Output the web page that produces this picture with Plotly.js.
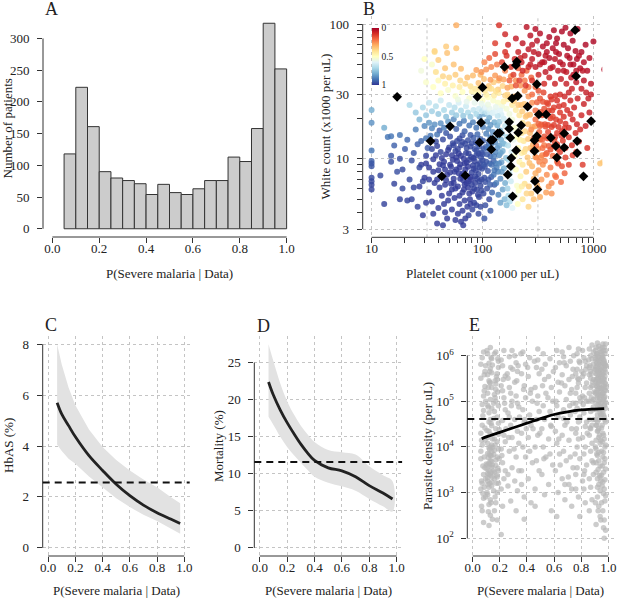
<!DOCTYPE html>
<html><head><meta charset="utf-8">
<script src="https://cdn.plot.ly/plotly-3.0.1.min.js"></script>
<style>html,body{margin:0;padding:0;background:#fff}#chart{width:617px;height:598px}</style>
</head><body><div id="chart"></div>
<script>
// ---------- Panel A: histogram ----------
const binLeft = [0.05,0.10,0.15,0.20,0.25,0.30,0.35,0.40,0.45,0.50,0.55,0.60,0.65,0.70,0.75,0.80,0.85,0.90,0.95];
const binCount = [118,223,161,90,80,76,71,54,70,57,54,63,76,76,113,106,158,324,252];

// ---------- Panel B: [platelets, white count, P(severe)] ----------
const bloodCounts = [
[45,9.5,.99],[52,8.7,.99],[58,10.2,.99],[63,9.1,.99],[70,8.3,.99],[76,9.8,.98],[82,8.9,.98],[88,10.6,.97],[95,9.3,.97],[48,7.6,.99],
[55,7.1,.99],[61,7.8,.99],[67,6.9,.99],[73,7.4,.99],[80,7.9,.98],[86,6.6,.98],[92,7.7,.97],[99,8.4,.96],[42,11.2,.98],[50,12.1,.98],
[57,11.4,.98],[64,12.6,.97],[71,11.0,.98],[78,12.3,.97],[85,11.8,.96],[91,12.9,.95],[98,11.1,.95],[40,8.2,.99],[46,6.4,.99],[53,5.9,.99],
[60,6.2,.99],[66,5.6,.99],[74,6.1,.99],[81,5.7,.99],[89,5.9,.98],[96,6.3,.97],[104,7.2,.96],[108,9.5,.95],[112,8.1,.95],[118,10.4,.93],
[36,9.9,.99],[39,7.0,.99],[43,5.3,.99],[49,4.9,.99],[56,5.1,.99],[62,4.6,.99],[69,4.9,.99],[77,5.0,.99],[84,4.7,.98],[93,5.2,.98],
[33,8.6,.99],[35,11.8,.98],[38,13.4,.97],[44,13.9,.97],[51,14.6,.96],[59,13.5,.97],[66,14.9,.96],[74,13.7,.96],[83,14.3,.94],[90,15.2,.92],
[101,13.6,.93],[107,12.2,.93],[114,13.0,.92],[122,11.7,.92],[126,9.6,.93],[120,7.3,.94],[110,6.0,.96],[102,5.5,.97],[115,5.0,.97],[128,6.4,.94],
[47,10.8,.99],[54,9.8,.99],[61,10.9,.99],[68,10.0,.99],[75,10.9,.98],[83,10.1,.98],[90,9.0,.97],[97,10.2,.96],[44,8.9,.99],[51,7.9,.99],
[58,8.3,.99],[65,7.5,.99],[72,9.4,.99],[79,7.0,.99],[87,8.2,.98],[94,6.8,.97],[100,10.8,.96],[105,8.7,.96],[38,10.6,.99],[41,6.1,.99],
[30,7.2,.99],[31,10.5,.98],[28,9.0,.99],[27,6.2,.99],[33,5.6,.99],[35,4.8,.99],[40,4.3,.99],[46,4.0,.99],[53,4.2,.99],[60,3.9,.99],
[66,4.1,.99],[73,4.4,.99],[81,4.2,.98],[88,4.5,.98],[57,3.5,.99],[64,3.4,.99],[70,3.6,.99],[48,3.6,.99],[96,4.4,.97],[106,4.5,.96],
[55,6.6,.99],[62,5.3,.99],[69,6.4,.99],[76,5.5,.99],[84,6.0,.98],[91,5.4,.98],[98,7.0,.97],[50,5.5,.99],[43,7.3,.99],[37,6.6,.99],
[54,13.0,.97],[62,14.1,.97],[70,12.9,.97],[78,15.0,.95],[87,13.2,.95],[95,14.0,.93],[47,15.5,.95],[41,16.2,.94],[58,16.6,.93],[69,16.0,.93],
[43,10.1,.99],[49,11.6,.99],[53,10.6,.99],[59,9.6,.99],[64,10.5,.99],[69,9.2,.99],[74,8.7,.99],[79,10.3,.98],[85,9.6,.98],[92,10.9,.97],
[46,8.3,.99],[51,9.0,.99],[56,8.0,.99],[62,8.6,.99],[67,7.8,.99],[72,6.6,.99],[78,7.3,.99],[83,8.4,.98],[89,7.1,.98],[94,8.6,.97],
[41,9.1,.99],[47,6.9,.99],[52,6.5,.99],[57,6.0,.99],[63,7.1,.99],[68,5.9,.99],[75,6.8,.99],[80,6.4,.98],[86,7.4,.98],[100,9.7,.96],
[55,12.6,.98],[60,11.8,.98],[66,13.3,.97],[72,12.0,.97],[80,13.0,.96],[88,11.5,.96],[94,12.3,.95],[103,11.8,.94],[110,10.8,.94],[116,9.2,.94],
[106,6.7,.96],[113,7.0,.95],[98,5.8,.97],[103,9.0,.95],[39,12.4,.98],[36,8.0,.99],[33,7.0,.99],[31,9.2,.99],[45,4.6,.99],[78,4.6,.99],
[10,23,.8],[10,18.5,.85],[10,11.5,.9],[10,9.6,.93],[10,8.8,.95],[10,7.2,.97],[10,6.4,.98],[10,5.9,.98],[10,6.8,.97],[10,9.2,.95],
[13,17,.8],[12,7.5,.97],[14,14.5,.9],[15,14.7,.9],[13,4.6,.98],[15,9.5,.96],[15,10.5,.95],[16,6.5,.98],[18,10,.96],[19,8.3,.97],
[16,12.5,.93],[18,15.0,.9],[17,8.0,.96],[19,6.0,.97],[20,11.8,.94],[21,13.8,.92],[22,7.0,.97],[23,9.7,.96],[24,11.0,.95],[25,16.5,.88],
[26,12.8,.93],[27,8.6,.97],[28,13.5,.92],[29,6.8,.98],[30,17.5,.86],[31,14.2,.9],[32,12.0,.94],[33,18.5,.84],[34,14.8,.9],[35,16.8,.87],
[37,17.9,.85],[39,15.1,.9],[42,18.3,.85],[45,17.0,.88],[49,18.9,.83],[23,5.0,.98],[26,4.4,.98],[29,3.8,.99],[31,4.7,.99],[36,3.9,.99],
[39,3.3,.99],[44,3.2,.99],[67,3.2,.99],[75,3.8,.98],[92,3.9,.97],[104,3.6,.95],[118,4.1,.94],[21,4.9,.98],[24,6.1,.98],[18,5.0,.98],
[108,15.3,.88],[113,16.6,.86],[118,14.4,.87],[124,15.8,.85],[130,13.2,.86],[136,12.0,.85],[141,10.6,.86],[132,9.2,.88],[138,8.0,.87],[145,7.1,.86],
[126,7.6,.9],[133,6.6,.89],[122,5.6,.92],[139,5.4,.88],[148,9.4,.83],[152,11.4,.8],[147,13.8,.8],[144,16.2,.78],[136,17.7,.8],[128,18.6,.8],
[118,17.8,.84],[110,18.9,.84],[101,17.2,.88],[95,18.4,.86],[88,17.0,.9],[82,18.6,.88],[76,17.6,.9],[68,19.1,.88],[62,18.2,.9],[55,19.6,.86],
[156,8.5,.8],[160,6.6,.8],[152,5.9,.82],[163,10.1,.75],[158,12.8,.73],[150,15.4,.74],[142,18.8,.75],[115,20.2,.8],[104,21.5,.8],[94,20.5,.82],
[112,12.0,.9],[119,12.8,.88],[125,13.8,.86],[131,11.2,.87],[137,14.6,.84],[142,12.5,.83],[127,10.4,.89],[134,8.6,.88],[141,9.2,.86],[149,8.0,.84],
[121,9.0,.91],[128,8.2,.9],[117,6.4,.93],[146,11.0,.82],[153,13.0,.78],
[22,25,.7],[25,22,.74],[27,19.5,.78],[29,24,.7],[31,21,.74],[33,26,.66],[35,22.5,.72],[38,24.5,.68],[40,21.5,.74],[42,27,.64],
[45,23,.7],[47,20.5,.76],[50,25,.66],[53,22,.72],[56,24,.68],[58,21,.74],[61,26,.62],[64,22.8,.7],[67,20.8,.74],[71,24.5,.64],
[74,22,.7],[78,20.5,.74],[83,23,.66],[88,21.5,.7],[93,23.5,.64],[99,22.5,.66],[105,24,.6],[110,22,.64],[116,23.5,.58],[123,21.8,.62],
[166,14.5,.7],[170,12.5,.68],[172,9.8,.7],[175,7.7,.68],[168,6.0,.72],[178,16.5,.62],[182,11.2,.62],[185,8.5,.6],[180,6.8,.64],[171,5.3,.7],
[160,17.5,.66],[155,19.8,.64],[148,21.2,.62],[137,20.8,.66],[130,22.5,.6],[190,13.8,.58],[176,4.8,.7],[165,4.5,.76],[158,5.0,.78],[145,4.7,.82],
[195,10.5,.52],[200,8.3,.5],[205,6.3,.52],[198,5.3,.55],[210,12.0,.48],[215,9.5,.47],[220,7.4,.47],[212,5.8,.5],[225,11.0,.45],[205,14.5,.5],
[195,17.0,.52],[185,19.5,.54],[175,21.5,.55],[165,23.5,.54],[150,24.5,.55],[138,26,.52],[125,27,.52],[112,28.6,.5],[100,27.2,.5],[88,30.4,.5],
[76,28.1,.52],[66,31.3,.5],[57,29.2,.52],[49,32.4,.52],[42,30.6,.5],[36,34,.5],[31,37,.52],[28,45,.55],[35,50,.52],[30,55,.5],
[40,38,.48],[46,36,.45],[54,35,.45],[62,34,.44],[186,4.3,.6],[230,5.0,.42],[240,6.5,.4],[208,4.6,.5],[235,13.5,.42],[225,15.5,.42],
[60,27.5,.56],[72,26.5,.58],[85,26,.58],[98,25.6,.58],[112,25.2,.56],[132,24.2,.58],[145,22.8,.6],[80,31.5,.46],[92,30.5,.46],[108,29.8,.46],
[38,44,.4],[44,41,.38],[50,40,.38],[57,42,.36],[63,38,.38],[70,36,.38],[78,34.5,.4],[86,33,.42],[95,33.5,.4],[105,32,.42],
[115,33.2,.42],[127,29.4,.44],[140,30.8,.44],[155,26.6,.45],[170,27.6,.44],[46,47,.35],[55,50,.34],[40,54,.36],[48,61,.34],[37,62,.4],
[64,46.5,.33],[73,40,.33],[82,41.5,.33],[92,36.5,.34],[103,39,.34],[114,34.6,.35],[126,37,.36],[138,32.6,.36],[152,34.6,.38],[168,30,.38],
[248,8.0,.36],[255,10.2,.35],[262,6.2,.36],[270,12.0,.33],[280,8.8,.32],[290,7.1,.32],[275,5.5,.35],[300,10.3,.3],[310,6.4,.3],[320,8.2,.28],
[245,11.8,.38],[258,14.0,.35],[242,16.0,.38],[230,18.5,.42],[215,21,.42],[200,23,.44],[185,25,.44],[96,42,.32],[140,38,.32],[58,66,.35],
[330,5.2,.3],[340,7.0,.27],[290,5.0,.33],[260,4.4,.38],[350,9.0,.25],[318,11.8,.27],[1150,9.2,.35],[1220,9.4,.35],[37,63,.38],[47,68,.36],
[120,33,.4],[132,31.8,.4],[160,29.5,.38],[178,28.5,.36],[192,26.8,.36],[210,25,.35],[228,22.5,.36],[245,20.5,.35],[258,18,.34],[268,15.5,.32],
[230,9.0,.42],[238,11.2,.4],[226,6.2,.44],[218,13.8,.45],[250,5.5,.38],[265,9.3,.34],[285,12.7,.3],[300,7.8,.3],[320,6.0,.3],[335,10.2,.25],
[88,45.5,.28],[98,44,.26],[108,46,.26],[118,38.5,.27],[130,41.5,.27],[142,39.5,.25],[155,38.8,.28],[168,33.6,.28],[182,34.4,.3],[196,29,.3],
[210,29.5,.32],[224,25,.34],[238,25.5,.35],[252,21,.34],[268,21.2,.32],[282,17.2,.3],[298,17.4,.28],[312,13.9,.27],[330,13.8,.25],[345,10.6,.24],
[365,9.6,.23],[380,7.6,.25],[395,6.2,.26],[410,8.6,.22],[430,10.5,.2],[360,12.6,.22],[375,5.6,.28],[420,6.6,.24],[450,7.5,.22],[470,9.5,.2],
[120,48,.24],[135,50,.22],[104,52,.24],[160,45,.23],[180,41,.24],[200,38,.25],[220,35,.26],[240,32,.27],[260,29,.26],[280,26,.25],
[300,22.8,.2],[320,18.2,.18],[340,17.9,.17],[360,14.6,.16],[385,14.2,.15],[410,11.7,.15],[440,12.4,.14],[470,12.8,.13],[500,11.2,.12],[530,13.6,.12],
[560,12.0,.11],[600,14.4,.1],[640,12.6,.1],[690,15.5,.09],[740,13.4,.09],[310,26.2,.18],[335,22.2,.16],[360,21.4,.15],[390,17.8,.14],[420,17.2,.13],
[450,14.4,.12],[485,17.2,.11],[520,16.0,.1],[560,18.2,.1],[600,17.0,.09],[650,19.5,.08],[710,18.0,.08],[780,21,.08],[850,17.5,.07],[920,22,.06],
[280,30,.2],[300,34,.18],[330,28,.16],[355,31,.14],[380,26,.14],[410,29,.12],[440,24,.12],[470,27,.1],[500,22,.11],[540,25,.1],
[580,23,.09],[620,27,.08],[670,24,.08],[720,28,.07],[260,34,.22],[240,38,.22],[225,42,.2],[250,45,.18],[275,40,.18],[210,47,.18],
[380,11.0,.17],[420,14.2,.14],[460,19.5,.12],[395,22.8,.13],[350,26.5,.15],[320,32,.16],[500,30,.09],[550,29,.08],[600,31,.07],[640,33,.07],
[480,9.2,.16],[520,8.8,.15],[560,10.2,.13],[600,9.0,.13],[650,10.6,.12],[460,7.3,.2],[510,6.7,.2],[550,7.8,.18],[420,5.5,.26],[700,11.2,.12],
[800,9.0,.12],[880,12.0,.1],[540,20.5,.1],[620,21.5,.09],[760,16.5,.09],[820,25.5,.07],[900,28,.06],[430,20.5,.13],[370,17.3,.15],[345,21,.16],
[290,14.2,.2],[305,12.5,.2],[325,15.8,.18],[345,13.8,.17],[365,18.0,.15],[390,15.8,.14],[410,20.0,.13],[440,17.8,.12],[470,15.5,.12],[500,19.0,.11],
[285,11.5,.24],[305,10.2,.24],[325,9.5,.24],[348,12.0,.2],[372,10.8,.19],[395,12.4,.17],[445,13.5,.15],[480,11.8,.14],[515,14.8,.12],[550,16.8,.11],
[275,16.5,.25],[300,19.5,.2],[330,21.5,.17],[360,23.5,.15],[390,25.5,.13],[420,27.5,.11],[455,29.5,.1],[490,24.5,.1],[425,22.8,.12],[330,17.5,.18],
[150,52,.12],[165,58,.1],[180,48,.1],[195,55,.08],[210,62,.07],[225,52,.07],[240,58,.06],[260,65,.05],[280,55,.05],[300,48,.05],
[320,60,.04],[345,52,.04],[370,44,.05],[400,56,.03],[430,48,.04],[460,62,.03],[500,52,.03],[540,45,.04],[580,58,.03],[620,50,.03],
[660,42,.04],[710,55,.02],[760,47,.03],[820,38,.04],[880,45,.03],[950,36,.04],[1000,74,.02],[1250,46,.03],[170,70,.08],[200,78,.06],
[230,72,.05],[270,82,.04],[310,75,.04],[350,68,.03],[400,80,.02],[460,72,.02],[520,88,.02],[590,66,.02],[650,75,.02],[720,92,.01],
[780,62,.02],[850,70,.02],[560,94,.02],[300,92,.03],[250,95,.04],[141,98,.1],[58,98,.3],[190,42,.12],[215,38,.12],[245,35,.11],
[280,38,.1],[320,42,.08],[360,36,.09],[400,40,.07],[450,36,.07],[510,39,.06],[570,36,.06],[630,40,.05],[700,37,.05],[780,33,.06],
[860,31,.06],[950,30,.06],[130,60,.14],[115,56,.18],[130,72,.12],[160,84,.08],[380,62,.03],[430,66,.03],[480,45,.05],[360,52,.04],
[270,50,.06],[230,45,.08],[200,35,.15],[175,38,.17],[160,62,.1],[690,63,.02],[820,52,.03],[920,56,.03],[620,85,.02],[440,90,.02],
[220,56,.07],[260,48,.07],[290,62,.05],[330,50,.05],[370,58,.04],[410,47,.05],[450,55,.04],[490,60,.03],[530,50,.04],[570,44,.05],
[610,56,.03],[660,50,.03],[700,45,.04],[740,58,.03],[800,45,.04],[380,72,.03],[330,85,.03],[470,78,.02],[540,70,.02],[280,70,.05]
];
// black diamonds: [platelets, white count]
const diamondPoints = [
[17,28.8],[34,13.5],[51,17.4],[43,7.4],[70,7.5],[97,18.5],[94,13.2],[100,33.8],[90,28.8],[119,13.7],
[124,13.8],[120,11.7],[137,15.4],[143,15.5],[158,48],[174,18.7],[174,16.7],[178,14.3],[169,7.6],[180,8.8],
[182,10.1],[185,28],[187,5.25],[200,49.5],[204,52.5],[208,29.2],[210,15.6],[201,11.5],[223,17.7],[255,24.3],
[309,35.7],[294,13.7],[309,14.7],[294,11.4],[297,6.8],[313,5.9],[322,21.3],[375,21.3],[413,14.3],[458,12.4],
[468,10.2],[545,12.1],[545,15.4],[684,90],[698,41],[713,13.5],[713,11.0],[813,7.4],[953,19]
];
const bExtraGrid = [31.6, 316];

// ---------- Panel C: HbAS ----------
const cX =     [0.066,0.10,0.15,0.20,0.30,0.40,0.50,0.60,0.70,0.80,0.90,0.97];
const cFit =   [5.70,5.25,4.80,4.36,3.62,3.04,2.50,2.05,1.68,1.38,1.13,0.96];
const cUpper = [8.00,7.20,6.30,5.60,4.65,3.96,3.45,3.04,2.68,2.38,2.00,1.75];
const cLower = [4.05,3.80,3.50,3.30,2.80,2.38,1.95,1.60,1.30,1.05,0.75,0.55];
const cOverall = 2.57;

// ---------- Panel D: Mortality ----------
const dX =     [0.064,0.10,0.15,0.20,0.25,0.30,0.35,0.40,0.50,0.60,0.70,0.80,0.90,0.97];
const dFit =   [22.4,20.6,18.6,16.9,15.4,14.0,12.8,11.8,10.8,10.4,9.6,8.4,7.4,6.6];
const dUpper = [27.5,25.2,22.2,19.8,18.0,16.5,15.3,14.3,13.2,12.9,12.6,11.0,9.8,9.0];
const dLower = [17.7,16.6,15.0,13.6,12.5,11.5,10.5,9.6,8.8,8.3,7.7,6.6,5.6,4.9];
const dOverall = 11.6;

// ---------- Panel E: Parasite density ----------
const eX =   [0.066,0.10,0.20,0.30,0.40,0.50,0.60,0.70,0.80,0.90,0.97];
const eFit = [15100,16600,20900,26300,33100,41700,51300,58900,64600,67600,69200];
const eOverall = 40700;
const parasitePoints = [
[0.06,3.2e5],[0.07,1.1e4],[0.08,2.5e3],[0.06,8.0e3],[0.09,4.5e5],[0.07,1.6e3],[0.08,6.3e4],[0.06,2.0e4],[0.09,3.5e3],[0.07,9.0e5],
[0.08,1.3e5],[0.06,5.5e3],[0.09,1.4e4],[0.07,4.0e2],[0.08,7.5e2],[0.06,1.2e3],[0.09,2.1e5],[0.07,3.0e4],[0.08,1.2e6],[0.06,6.5e5],
[0.10,4.2e3],[0.09,2.6e4],[0.07,8.5e4],[0.08,2.2e2],
[0.11,1.8e3],[0.12,3.0e3],[0.13,5.0e3],[0.14,7.8e3],[0.11,1.2e4],[0.12,2.2e4],[0.13,4.0e4],[0.14,7.0e4],[0.11,1.5e5],[0.12,2.8e5],
[0.13,5.2e5],[0.14,8.5e5],[0.11,9.0e2],[0.12,5.5e2],[0.13,3.2e2],[0.14,1.4e3],[0.11,2.6e3],[0.12,4.4e3],[0.13,6.5e3],[0.14,1.1e4],
[0.11,1.6e4],[0.12,3.5e4],[0.13,1.1e5],[0.14,2.0e5],[0.11,3.8e5],[0.12,6.8e5],[0.13,1.5e6],[0.14,3.6e3],[0.11,2.1e3],[0.12,1.3e3],
[0.13,2.4e3],[0.14,4.8e3],[0.11,7.2e3],[0.12,9.5e3],[0.13,1.9e4],[0.14,2.9e4],[0.12,5.6e4],[0.11,8.2e4],[0.13,2.5e5],[0.14,4.2e5],
[0.12,1.9e2],[0.13,7.0e2],[0.11,1.1e6],[0.14,1.7e3],
[0.16,2.0e3],[0.17,3.9e3],[0.18,6.0e3],[0.19,9.0e3],[0.16,1.5e4],[0.17,2.5e4],[0.18,4.5e4],[0.19,8.0e4],[0.16,1.4e5],[0.17,2.4e5],
[0.18,4.0e5],[0.19,7.5e5],[0.16,1.1e6],[0.17,6.0e2],[0.18,1.0e3],[0.19,1.6e3],[0.16,2.8e3],[0.17,5.2e3],[0.18,1.3e4],[0.19,3.3e4],
[0.16,6.0e4],[0.17,1.8e5],[0.18,3.0e5],[0.19,5.5e5],[0.17,1.2e6],[0.16,4.0e2],[0.18,2.5e2],[0.19,3.0e3],[0.16,8.5e3],[0.17,1.0e5],
[0.18,2.2e3],[0.19,1.9e4],
[0.065,1.8e3],[0.075,3.8e3],[0.085,6.0e3],[0.095,2.0e3],[0.105,3.3e3],[0.115,5.8e3],[0.125,8.8e3],[0.135,2.7e3],[0.145,4.0e3],[0.155,6.8e3],
[0.165,1.1e4],[0.175,1.6e3],[0.185,3.4e3],[0.195,5.5e3],[0.065,1.4e4],[0.075,4.8e4],[0.085,1.7e5],[0.095,6.0e5],[0.105,2.3e4],[0.115,7.5e4],
[0.125,2.6e5],[0.135,9.0e5],[0.145,1.5e4],[0.155,4.2e4],[0.165,1.2e5],[0.175,3.5e5],[0.185,8.5e5],[0.195,2.4e4],[0.065,5.0e2],[0.075,9.5e2],
[0.085,1.3e3],[0.095,8.0e2],[0.105,1.0e3],[0.115,3.8e2],[0.125,1.6e3],[0.135,6.0e2],[0.145,2.6e2],[0.155,1.1e3],[0.165,8.0e2],[0.175,2.4e3],
[0.105,1.3e6],[0.125,4.5e5],[0.145,6.2e5],[0.165,2.8e5],[0.185,1.6e5],[0.085,3.8e5],[0.095,1.0e5],[0.115,2.0e5],[0.135,3.3e4],[0.155,9.0e4],
[0.108,4.0e3],[0.118,2.5e3],[0.128,4.0e3],[0.138,6.3e3],[0.148,9.8e3],[0.112,1.5e3],[0.122,6.8e3],[0.132,1.0e4],[0.142,2.2e3],[0.152,3.0e3],
[0.21,1.2e3],[0.22,4.5e3],[0.23,1.8e4],[0.24,6.5e4],[0.21,2.2e5],[0.22,6.0e5],[0.23,1.3e6],[0.24,3.0e3],[0.21,9.0e3],[0.22,3.8e4],
[0.23,1.2e5],[0.24,3.6e5],[0.21,8.0e5],[0.22,5.0e2],[0.23,2.0e3],[0.24,1.3e4],[0.22,1.7e5],[0.21,1.2e2],
[0.26,2.5e3],[0.27,8.0e3],[0.28,3.0e4],[0.29,1.0e5],[0.26,3.2e5],[0.27,9.5e5],[0.28,6.5e2],[0.29,1.6e4],[0.26,5.5e4],[0.27,2.0e5],
[0.28,5.5e5],[0.29,3.5e3],[0.26,1.4e3],[0.27,4.5e4],[0.28,1.5e5],[0.29,1.3e6],
[0.31,1.8e3],[0.32,6.0e3],[0.33,2.2e4],[0.34,7.5e4],[0.31,2.6e5],[0.32,7.0e5],[0.33,1.1e3],[0.34,1.2e4],[0.31,4.0e4],[0.32,1.3e5],
[0.33,4.5e5],[0.34,3.0e3],[0.31,1.0e6],[0.32,4.0e2],[0.33,9.0e4],
[0.36,3.0e3],[0.37,1.0e4],[0.38,3.5e4],[0.39,1.2e5],[0.36,4.0e5],[0.37,1.2e6],[0.38,8.0e2],[0.39,6.0e3],[0.36,2.0e4],[0.37,6.5e4],
[0.38,2.2e5],[0.39,6.5e5],[0.36,1.5e3],[0.38,2.6e2],
[0.41,2.0e3],[0.42,8.0e3],[0.43,3.0e4],[0.44,1.0e5],[0.41,3.5e5],[0.42,9.0e5],[0.43,6.0e2],[0.44,4.5e3],[0.41,1.6e4],[0.42,5.0e4],[0.43,1.8e5],
[0.46,1.2e3],[0.47,5.0e3],[0.48,1.8e4],[0.49,6.0e4],[0.46,2.0e5],[0.47,5.5e5],[0.48,1.4e6],[0.49,3.0e3],[0.46,1.0e4],[0.47,4.0e4],
[0.48,1.3e5],[0.49,4.0e5],[0.46,5.0e2],[0.48,8.0e5],
[0.51,2.5e3],[0.52,1.0e4],[0.53,4.0e4],[0.54,1.5e5],[0.51,5.0e5],[0.52,1.1e6],[0.53,9.0e2],[0.54,6.0e3],[0.51,2.5e4],[0.52,8.0e4],[0.53,3.0e5],
[0.56,1.5e3],[0.57,7.0e3],[0.58,2.8e4],[0.59,1.0e5],[0.56,3.5e5],[0.57,8.5e5],[0.58,4.0e2],[0.59,4.0e3],[0.56,1.5e4],[0.57,6.0e4],[0.58,2.0e5],
[0.61,3.0e3],[0.62,1.2e4],[0.63,4.5e4],[0.64,1.6e5],[0.61,5.5e5],[0.62,1.3e6],[0.63,1.0e3],[0.64,7.0e3],[0.61,2.2e4],[0.62,8.0e4],
[0.63,2.6e5],[0.64,7.0e5],[0.62,3.0e2],
[0.66,2.0e3],[0.67,8.0e3],[0.68,3.0e4],[0.69,1.1e5],[0.66,3.8e5],[0.67,9.5e5],[0.68,7.0e2],[0.69,5.0e3],[0.66,1.8e4],[0.67,6.5e4],
[0.68,2.2e5],[0.69,6.0e5],[0.66,1.2e6],[0.68,1.5e3],[0.67,4.2e4],
[0.71,1.5e3],[0.72,6.0e3],[0.73,2.5e4],[0.74,9.0e4],[0.71,3.0e5],[0.72,7.5e5],[0.73,5.0e2],[0.74,3.5e3],[0.71,1.4e4],[0.72,5.0e4],
[0.73,1.8e5],[0.74,5.0e5],[0.71,1.5e6],[0.73,1.2e3],[0.72,1.5e5],
[0.215,6.5e3],[0.235,9.0e4],[0.255,4.0e5],[0.265,1.6e4],[0.285,8.0e4],[0.295,5.0e5],[0.305,9.0e3],[0.325,2.8e5],[0.345,4.5e4],[0.355,1.1e6],
[0.375,1.8e5],[0.395,2.5e4],[0.405,5.5e5],[0.425,1.5e5],[0.445,2.5e4],[0.455,7.5e5],[0.475,9.0e4],[0.495,2.0e4],[0.515,2.2e5],[0.535,6.5e5],
[0.555,1.2e5],[0.575,3.0e4],[0.595,4.5e5],[0.615,1.0e5],[0.635,1.5e4],[0.655,2.5e5],[0.675,7.0e5],[0.695,3.5e4],[0.715,8.0e4],[0.735,3.5e5],
[0.745,1.0e6],[0.755,6.0e4],[0.765,2.5e4],[0.775,3.2e5],[0.785,7.5e5],[0.795,1.0e5],[0.805,4.5e5],[0.815,8.5e4],[0.825,1.2e5],[0.835,5.0e5],
[0.845,2.0e4],[0.225,3.0e5],[0.245,2.5e4],[0.335,6.0e5],[0.385,4.0e4],[0.525,5.5e3],[0.645,4.0e3],[0.705,2.2e3],[0.755,7.0e3],[0.825,3.0e3],
[0.76,2.5e3],[0.77,1.0e4],[0.78,3.5e4],[0.79,1.2e5],[0.76,4.0e5],[0.77,1.1e6],[0.78,8.0e2],[0.79,5.5e3],[0.76,2.0e4],[0.77,7.0e4],
[0.78,2.5e5],[0.79,7.0e5],[0.76,1.2e3],[0.77,3.5e3],[0.78,1.5e4],[0.79,4.5e4],[0.76,1.5e5],[0.77,5.0e5],[0.78,1.4e6],[0.79,3.0e2],
[0.76,9.0e4],[0.78,3.0e5],[0.77,2.0e5],
[0.81,1.8e3],[0.82,7.0e3],[0.83,2.8e4],[0.84,1.0e5],[0.81,3.5e5],[0.82,9.0e5],[0.83,6.0e2],[0.84,4.0e3],[0.81,1.6e4],[0.82,5.5e4],
[0.83,2.0e5],[0.84,6.0e5],[0.81,1.3e6],[0.82,1.2e3],[0.83,1.0e4],[0.84,3.5e4],[0.81,1.3e5],[0.82,4.0e5],[0.83,7.5e5],[0.84,2.5e5],[0.82,2.5e3],
[0.86,2.0e3],[0.87,8.0e3],[0.88,3.0e4],[0.89,1.1e5],[0.86,3.8e5],[0.87,1.0e6],[0.88,7.0e2],[0.89,4.5e3],[0.86,1.8e4],[0.87,6.0e4],
[0.88,2.2e5],[0.89,6.5e5],[0.86,1.4e6],[0.87,1.3e3],[0.88,1.2e4],[0.89,4.0e4],[0.86,1.5e5],[0.87,4.5e5],[0.88,8.5e5],[0.89,3.0e5],
[0.86,5.5e5],[0.87,2.0e5],[0.88,1.0e5],[0.89,7.5e4],[0.86,4.0e4],[0.87,2.5e4],[0.88,5.0e3],[0.89,2.5e3],[0.86,4.0e2],[0.88,1.7e6],
[0.87,3.2e5],[0.89,1.2e6],
[0.855,8.0e5],[0.865,6.0e5],[0.875,4.0e5],[0.885,2.6e5],[0.895,1.6e5],[0.855,1.0e5],[0.865,2.6e4],[0.875,1.2e5],[0.885,6.5e4],[0.895,5.0e5],
[0.91,1.0e6],[0.92,8.0e5],[0.93,6.5e5],[0.94,5.0e5],[0.91,4.0e5],[0.92,3.2e5],[0.93,2.6e5],[0.94,2.0e5],[0.91,1.6e5],[0.92,1.3e5],
[0.93,1.0e5],[0.94,8.0e4],[0.91,6.5e4],[0.92,5.0e4],[0.93,4.0e4],[0.94,1.2e6],[0.91,1.5e6],[0.92,1.1e6],[0.93,9.0e5],[0.94,7.0e5],
[0.91,5.6e5],[0.92,4.5e5],[0.93,3.6e5],[0.94,2.8e5],[0.91,2.2e5],[0.92,1.8e5],[0.93,1.4e5],[0.94,1.1e5],[0.91,9.0e4],[0.92,7.0e4],
[0.93,1.6e6],[0.94,1.4e6],[0.91,7.5e5],[0.92,6.0e5],[0.93,4.8e5],[0.94,3.8e5],[0.91,3.0e5],[0.92,2.4e5],[0.93,1.9e5],[0.94,1.5e5],
[0.91,3.0e4],[0.92,2.2e4],[0.93,1.6e4],[0.94,1.2e4],[0.91,9.0e3],[0.92,6.5e3],[0.93,5.0e3],[0.94,3.8e3],[0.91,2.8e3],[0.92,2.0e3],
[0.93,1.5e3],[0.94,1.1e3],[0.91,1.4e4],[0.92,3.5e4],[0.93,7.5e3],[0.94,5.5e4],[0.91,4.5e3],[0.92,8.0e2],[0.93,5.0e2],[0.94,3.0e2],
[0.91,2.0e2],[0.92,1.3e3],[0.93,2.5e4],[0.94,2.2e3],[0.92,1.9e6],
[0.905,8.5e5],[0.915,6.8e5],[0.925,5.2e5],[0.935,4.2e5],[0.945,3.4e5],[0.905,2.7e5],[0.915,2.1e5],[0.925,1.6e5],[0.935,1.2e5],[0.945,9.0e4],
[0.905,1.3e6],[0.915,1.1e6],[0.925,9.5e5],[0.935,7.8e5],[0.945,6.3e5],[0.905,5.0e5],[0.915,4.0e5],[0.925,3.1e5],[0.935,2.4e5],[0.945,1.9e5],
[0.905,1.5e5],[0.915,1.2e5],[0.925,8.5e4],[0.935,6.5e4],[0.945,5.0e4],[0.905,4.0e4],[0.915,3.0e4],[0.925,2.3e4],[0.935,1.8e4],[0.945,1.4e4],
[0.905,1.0e4],[0.915,7.0e3],[0.925,3.2e3],[0.935,2.4e3],[0.945,1.8e3],[0.905,6.0e2],[0.925,4.0e2],[0.945,2.5e2],
[0.95,1.2e6],[0.96,9.5e5],[0.97,7.5e5],[0.98,6.0e5],[0.95,4.8e5],[0.96,3.8e5],[0.97,3.0e5],[0.98,2.4e5],[0.95,1.9e5],[0.96,1.5e5],
[0.97,1.2e5],[0.98,9.5e4],[0.95,7.5e4],[0.96,6.0e4],[0.97,1.5e6],[0.98,1.3e6],[0.95,8.5e5],[0.96,6.8e5],[0.97,5.4e5],[0.98,4.3e5],
[0.95,3.4e5],[0.96,2.7e5],[0.97,2.1e5],[0.98,1.7e5],[0.95,1.3e5],[0.96,1.0e5],[0.97,4.5e4],[0.98,3.5e4],[0.95,2.6e4],[0.96,2.0e4],
[0.97,1.5e4],[0.98,1.1e4],[0.95,8.0e3],[0.96,6.0e3],[0.97,4.5e3],[0.98,3.3e3],[0.95,2.4e3],[0.96,1.7e3],[0.97,1.2e3],[0.98,8.5e2],
[0.95,6.0e2],[0.96,4.0e2],[0.97,2.5e2],[0.98,1.5e2],[0.97,1.0e2],[0.96,1.8e6],[0.98,7.0e4],[0.95,5.0e4],[0.97,8.0e4],[0.98,1.8e6],
[0.955,1.05e6],[0.965,8.2e5],[0.975,6.6e5],[0.955,5.4e5],[0.965,4.3e5],[0.975,3.5e5],[0.955,2.8e5],[0.965,2.2e5],[0.975,1.75e5],[0.955,1.4e5],
[0.965,1.1e5],[0.975,8.5e4],[0.955,6.5e4],[0.965,5.0e4],[0.975,3.9e4],[0.955,1.5e6],[0.965,1.3e6],[0.975,1.1e6],[0.955,9.0e5],[0.965,7.0e5],
[0.975,5.0e5],[0.955,3.9e5],[0.965,3.1e5],[0.975,2.5e5],[0.955,1.9e5],[0.965,1.5e5],[0.975,1.25e5],[0.955,3.0e4],[0.965,1.8e4],[0.975,1.0e4],
[0.955,1.3e4],[0.965,7.5e3],[0.975,5.5e3],[0.955,3.8e3],[0.965,2.8e3],[0.975,1.9e3],[0.955,1.4e3],[0.965,9.5e2],[0.975,6.5e2],[0.965,1.7e2],
[0.985,2.0e5],[0.985,6.0e5]
];

const probTicks = [0,0.2,0.4,0.6,0.8,1.0];
const probTickText = ['0.0','0.2','0.4','0.6','0.8','1.0'];

// ---------- styling ----------
const FONT = 'Liberation Serif, Times New Roman, serif';
const INK = '#222';
const GRID = '#c4c4c4';
const W = 617, H = 598;
const rdylbu = ['#313695','#4575b4','#74add1','#abd9e9','#e0f3f8','#ffffbf','#fee090','#fdae61','#f46d43','#d73027','#a50026'];
const colorscale = rdylbu.map((c,i)=>[i/(rdylbu.length-1), c]);

function ax(extra){
  return Object.assign({
    showline:false, zeroline:false, showgrid:false,
    ticks:'outside', ticklen:5, tickwidth:1, tickcolor:'#333',
    tickfont:{family:FONT, size:13, color:INK}, fixedrange:true
  }, extra);
}
const xTickStandoff = -6, yTickStandoff = 5;
const gridOpts = {showgrid:true, gridcolor:GRID, griddash:'dot', gridwidth:1};
const px = (v)=>v/W, py = (v)=>1 - v/H;

const traces = [
  {type:'bar', x:binLeft, y:binCount, width:0.05, offset:0, xaxis:'x', yaxis:'y',
   marker:{color:'#cccccc', line:{color:'#333', width:1}}, hoverinfo:'skip'},
  {type:'scatter', mode:'markers', xaxis:'x2', yaxis:'y2',
   x:bloodCounts.map(d=>d[0]), y:bloodCounts.map(d=>d[1]),
   marker:{size:6, opacity:0.82, color:bloodCounts.map(d=>1-d[2]), cmin:0, cmax:1, colorscale:colorscale,
     line:{width:0},
     colorbar:{x:px(371.5), xanchor:'left', y:py(56.5), yanchor:'middle', len:57/H, lenmode:'fraction',
       thickness:6.5, outlinewidth:0, xpad:0, ypad:0, tickvals:[0,0.5,1], ticktext:['1','0.5','0'],
       ticks:'', tickfont:{family:FONT, size:9.5, color:INK}, bgcolor:'rgba(0,0,0,0)'}},
   hoverinfo:'skip'},
  {type:'scatter', mode:'markers', xaxis:'x2', yaxis:'y2',
   x:diamondPoints.map(d=>d[0]), y:diamondPoints.map(d=>d[1]),
   marker:{symbol:'diamond', size:7.5, color:'#000'}, hoverinfo:'skip'},
  {type:'scatter', mode:'lines', xaxis:'x3', yaxis:'y3',
   x:cX.concat(cX.slice().reverse()), y:cUpper.concat(cLower.slice().reverse()),
   fill:'toself', fillcolor:'rgb(226,226,226)', line:{width:0}, hoverinfo:'skip'},
  {type:'scatter', mode:'lines', xaxis:'x3', yaxis:'y3', x:cX, y:cFit,
   line:{color:INK, width:2.8, shape:'spline'}, hoverinfo:'skip'},
  {type:'scatter', mode:'lines', xaxis:'x4', yaxis:'y4',
   x:dX.concat(dX.slice().reverse()), y:dUpper.concat(dLower.slice().reverse()),
   fill:'toself', fillcolor:'rgb(226,226,226)', line:{width:0, shape:'spline'}, hoverinfo:'skip'},
  {type:'scatter', mode:'lines', xaxis:'x4', yaxis:'y4', x:dX, y:dFit,
   line:{color:INK, width:2.8, shape:'spline'}, hoverinfo:'skip'},
  {type:'scatter', mode:'markers', xaxis:'x5', yaxis:'y5',
   x:parasitePoints.map(d=>d[0]), y:parasitePoints.map(d=>d[1]),
   marker:{size:5.5, color:'rgba(182,182,182,0.7)', line:{width:0}}, hoverinfo:'skip'},
  {type:'scatter', mode:'lines', xaxis:'x5', yaxis:'y5', x:eX, y:eFit,
   line:{color:'#000', width:2.8, shape:'spline'}, hoverinfo:'skip'}
];

const axisLine = {color:'#333', width:1};
const dashLine = {color:'#111', width:2, dash:'7px,5px'};
const shapes = [
  {type:'line', xref:'x', yref:'y domain', x0:0, x1:1, y0:0, y1:0, line:axisLine},
  {type:'line', xref:'x domain', yref:'y', x0:0, x1:0, y0:0, y1:300, line:axisLine},
  {type:'line', xref:'x2', yref:'y2 domain', x0:10, x1:1000, y0:0, y1:0, line:axisLine},
  {type:'line', xref:'x2 domain', yref:'y2', x0:0, x1:0, y0:3, y1:100, line:axisLine},
  {type:'line', xref:'x3', yref:'y3 domain', x0:0, x1:1, y0:0, y1:0, line:axisLine},
  {type:'line', xref:'x3 domain', yref:'y3', x0:0, x1:0, y0:0, y1:8, line:axisLine},
  {type:'line', xref:'x4', yref:'y4 domain', x0:0, x1:1, y0:0, y1:0, line:axisLine},
  {type:'line', xref:'x4 domain', yref:'y4', x0:0, x1:0, y0:0, y1:25, line:axisLine},
  {type:'line', xref:'x5', yref:'y5 domain', x0:0, x1:1, y0:0, y1:0, line:axisLine},
  {type:'line', xref:'x5 domain', yref:'y5', x0:0, x1:0, y0:100, y1:1e6, line:axisLine},
  {type:'line', xref:'x3 domain', yref:'y3', x0:0, x1:1, y0:cOverall, y1:cOverall, line:dashLine},
  {type:'line', xref:'x4 domain', yref:'y4', x0:0, x1:1, y0:dOverall, y1:dOverall, line:dashLine},
  {type:'line', xref:'x5 domain', yref:'y5', x0:0, x1:1, y0:eOverall, y1:eOverall, line:dashLine}
].concat(bExtraGrid.map(v=>({type:'line', layer:'below', xref:'x2', yref:'y2 domain', x0:v, x1:v, y0:0, y1:1,
  line:{color:GRID, width:1, dash:'dot'}})));

function label(text, x, y, size, extra){
  return Object.assign({text:text, xref:'paper', yref:'paper', x:x, y:y, showarrow:false,
    xanchor:'center', yanchor:'middle', font:{family:FONT, size:size, color:INK}}, extra||{});
}
const annotations = [
  label('A', px(43), py(9), 18, {xanchor:'left'}),
  label('B', px(361), py(9), 18, {xanchor:'left'}),
  label('C', px(43), py(325), 18, {xanchor:'left'}),
  label('D', px(255), py(326), 18, {xanchor:'left'}),
  label('E', px(467), py(325), 18, {xanchor:'left'}),
  label('P(Severe malaria | Data)', px(169.5), py(273), 13),
  label('Number of patients', px(7.5), py(129), 13, {textangle:-90}),
  label('Platelet count (x1000 per uL)', px(482.5), py(273), 13),
  label('White count (x1000 per uL)', px(325), py(126.5), 13, {textangle:-90}),
  label('P(Severe malaria | Data)', px(116), py(590), 13),
  label('HbAS (%)', px(9), py(446), 13, {textangle:-90}),
  label('P(Severe malaria | Data)', px(328), py(590), 13),
  label('Mortality (%)', px(219), py(446), 13, {textangle:-90}),
  label('P(Severe malaria | Data)', px(540.5), py(590), 13),
  label('Parasite density (per uL)', px(428), py(446), 13, {textangle:-90})
];

const yTop = [py(237), py(15)];
const yBot = [py(556), py(336)];
const xs = {ticklabelstandoff:xTickStandoff}, ys = {ticklabelstandoff:yTickStandoff};
const layout = {
  width:W, height:H, margin:{l:0,r:0,t:0,b:0}, paper_bgcolor:'#fff', plot_bgcolor:'#fff',
  showlegend:false, font:{family:FONT, color:INK},
  xaxis: ax(Object.assign({domain:[px(43), px(296)], range:[-0.04,1.04], tickvals:probTicks, ticktext:probTickText, anchor:'y'}, xs)),
  yaxis: ax(Object.assign({domain:yTop, range:[-13,337], tickvals:[0,50,100,150,200,250,300], anchor:'x'}, ys)),
  xaxis2: ax(Object.assign({domain:[px(362.7), px(602.3)], type:'log', range:[0.92,3.08],
    tickvals:[10,100,1000], ticktext:['10','100','1000'], anchor:'y2',
    minor:{tickvals:[20,30,40,50,60,70,80,90,200,300,400,500,600,700,800,900], ticks:'outside', ticklen:5, tickcolor:'#333', showgrid:false}}, gridOpts, xs)),
  yaxis2: ax(Object.assign({domain:[py(237.3), py(15.8)], type:'log', range:[0.416,2.061],
    tickvals:[3,10,30,100], ticktext:['3','10','30','100'], anchor:'x2',
    minor:{tickvals:[4,5,6,7,8,9,20,40,50,60,70,80,90], ticks:'outside', ticklen:5, tickcolor:'#333', showgrid:false}}, gridOpts, ys)),
  xaxis3: ax(Object.assign({domain:[px(42.7), px(189.7)], range:[-0.04,1.04], tickvals:probTicks, ticktext:probTickText, anchor:'y3'}, gridOpts, xs)),
  yaxis3: ax(Object.assign({domain:yBot, range:[-0.32,8.32], tickvals:[0,2,4,6,8], anchor:'x3'}, gridOpts, ys)),
  xaxis4: ax(Object.assign({domain:[px(254.3), px(402.1)], range:[-0.04,1.04], tickvals:probTicks, ticktext:probTickText, anchor:'y4'}, gridOpts, xs)),
  yaxis4: ax(Object.assign({domain:yBot, range:[-1.1,28.6], tickvals:[0,5,10,15,20,25], anchor:'x4'}, gridOpts, ys)),
  xaxis5: ax(Object.assign({domain:[px(467.3), px(613.7)], range:[-0.04,1.04], tickvals:probTicks, ticktext:probTickText, anchor:'y5'}, gridOpts, xs)),
  yaxis5: ax(Object.assign({domain:yBot, type:'log', range:[1.61,6.43], tickvals:[1e2,1e3,1e4,1e5,1e6],
    ticktext:['10<sup>2</sup>','10<sup>3</sup>','10<sup>4</sup>','10<sup>5</sup>','10<sup>6</sup>'], anchor:'x5'}, gridOpts, ys)),
  shapes: shapes,
  annotations: annotations
};

Plotly.newPlot('chart', traces, layout, {displayModeBar:false, staticPlot:true});
</script>
</body></html>
